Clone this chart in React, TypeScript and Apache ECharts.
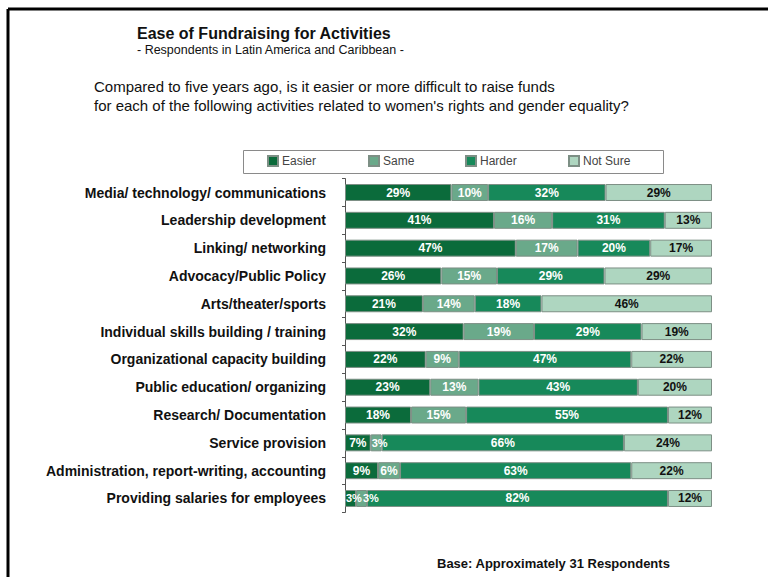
import React, { useEffect, useRef } from "react";
import * as echarts from "echarts";

const categories = [
  "Media/ technology/ communications",
  "Leadership development",
  "Linking/ networking",
  "Advocacy/Public Policy",
  "Arts/theater/sports",
  "Individual skills building / training",
  "Organizational capacity building",
  "Public education/ organizing",
  "Research/ Documentation",
  "Service provision",
  "Administration, report-writing, accounting",
  "Providing salaries for employees",
];

const easier = [29, 41, 47, 26, 21, 32, 22, 23, 18, 7, 9, 3];
const same = [10, 16, 17, 15, 14, 19, 9, 13, 15, 3, 6, 3];
const harder = [32, 31, 20, 29, 18, 29, 47, 43, 55, 66, 63, 82];
const notSure = [29, 13, 17, 29, 46, 19, 22, 20, 12, 24, 22, 12];

const seriesNames = ["Easier", "Same", "Harder", "Not Sure"];
const seriesColors = ["#0b6b3b", "#6aa98a", "#17895a", "#aed6c0"];
const labelColors = ["#ffffff", "#ffffff", "#ffffff", "#111111"];
const legendLefts = [267, 368, 465, 568];

const FONT = "Arial, 'Liberation Sans', sans-serif";

function measure(text: string, font: string): number {
  const c = document.createElement("canvas").getContext("2d");
  if (!c) return text.length * 8;
  c.font = font;
  return c.measureText(text).width;
}

export default function App() {
  const ref = useRef<HTMLDivElement>(null);

  useEffect(() => {
    if (!ref.current) return;
    const chart = echarts.init(ref.current, undefined, { renderer: "svg" });
    const all = [easier, same, harder, notSure];
    const totals = categories.map((_, i) => all.reduce((s, arr) => s + arr[i], 0));
    const gridLeft = 345;
    const plotW = 367;
    const pxPer = plotW / 100;

    // label placement per row so that tiny segments' labels do not collide
    const labelCfg: any[][] = all.map(() => []);
    categories.forEach((_, i) => {
      let cursor = 0;
      let start = 0;
      all.forEach((arr, si) => {
        const w = (arr[i] / totals[i]) * 100 * pxPer;
        const text = `${arr[i]}%`;
        const lwNormal = measure(text, `bold 12px ${FONT}`);
        if (w < lwNormal + 4) {
          const lw = measure(text, `bold 11px ${FONT}`);
          const left = Math.max(start + 1, cursor + 1);
          labelCfg[si][i] = {
            position: "insideLeft",
            distance: 0,
            offset: [left - start, 0],
            fontSize: 11,
          };
          cursor = left + lw;
        } else {
          cursor = start + w / 2 + lwNormal / 2;
        }
        start += w;
      });
    });

    const series: any[] = all.map((arr, si) => ({
      name: seriesNames[si],
      type: "bar",
      stack: "total",
      barWidth: "61%",
      data: arr.map((v, i) => {
        const d: any = { value: (v / totals[i]) * 100 };
        if (labelCfg[si][i]) d.label = labelCfg[si][i];
        return d;
      }),
      itemStyle: {
        color: seriesColors[si],
        borderColor: "#7d8f85",
        borderWidth: 1,
      },
      label: {
        show: true,
        position: "inside",
        color: labelColors[si],
        fontFamily: FONT,
        fontWeight: "bold",
        fontSize: 12,
        formatter: (p: any) => `${arr[p.dataIndex]}%`,
      },
    }));

    const legends = seriesNames.map((n, i) => ({
      data: [n],
      left: legendLefts[i],
      top: 155,
      padding: 0,
      itemWidth: 10,
      itemHeight: 10,
      itemGap: 4,
      icon: "rect",
      textStyle: { fontSize: 12, color: "#444444", fontFamily: FONT, padding: [0, 0, 0, -1] },
    }));

    chart.setOption({
      animation: false,
      backgroundColor: "#ffffff",
      legend: legends,
      grid: { left: gridLeft, right: 768 - gridLeft - plotW, top: 178.6, bottom: 64.6, containLabel: false },
      xAxis: { type: "value", min: 0, max: 100, show: false },
      yAxis: {
        type: "category",
        inverse: true,
        data: categories,
        axisLine: { show: true, lineStyle: { color: "#555555", width: 1 } },
        axisTick: { show: true, length: 3, lineStyle: { color: "#555555" } },
        axisLabel: {
          margin: 19,
          color: "#111111",
          fontSize: 14,
          fontWeight: "bold",
          fontFamily: FONT,
        },
      },
      graphic: [
        { type: "line", shape: { x1: 8, y1: 9, x2: 768, y2: 9 }, style: { stroke: "#000", lineWidth: 3 } },
        { type: "line", shape: { x1: 8, y1: 9, x2: 8, y2: 577 }, style: { stroke: "#000", lineWidth: 3 } },
        {
          type: "rect",
          shape: { x: 243.5, y: 150.5, width: 420, height: 23 },
          style: { fill: "none", stroke: "#8a8a8a", lineWidth: 1 },
        },
        {
          type: "text", x: 137, y: 33,
          style: { text: "Ease of Fundraising for Activities", font: `bold 16px ${FONT}`, fill: "#111", verticalAlign: "middle" },
        },
        {
          type: "text", x: 137, y: 50,
          style: { text: "- Respondents in Latin America and Caribbean -", font: `12.5px ${FONT}`, fill: "#111", verticalAlign: "middle" },
        },
        {
          type: "text", x: 94, y: 86,
          style: { text: "Compared to five years ago, is it easier or more difficult to raise funds", font: `15px ${FONT}`, fill: "#111", verticalAlign: "middle" },
        },
        {
          type: "text", x: 94, y: 105,
          style: { text: "for each of the following activities related to women's rights and gender equality?", font: `15px ${FONT}`, fill: "#111", verticalAlign: "middle" },
        },
        {
          type: "text", x: 437, y: 563,
          style: { text: "Base: Approximately 31 Respondents", font: `bold 13px ${FONT}`, fill: "#111", verticalAlign: "middle" },
        },
      ],
      series,
    });

    return () => chart.dispose();
  }, []);

  return (
    <div
      ref={ref}
      style={{ position: "fixed", left: 0, top: 0, width: 768, height: 577 }}
    />
  );
}
